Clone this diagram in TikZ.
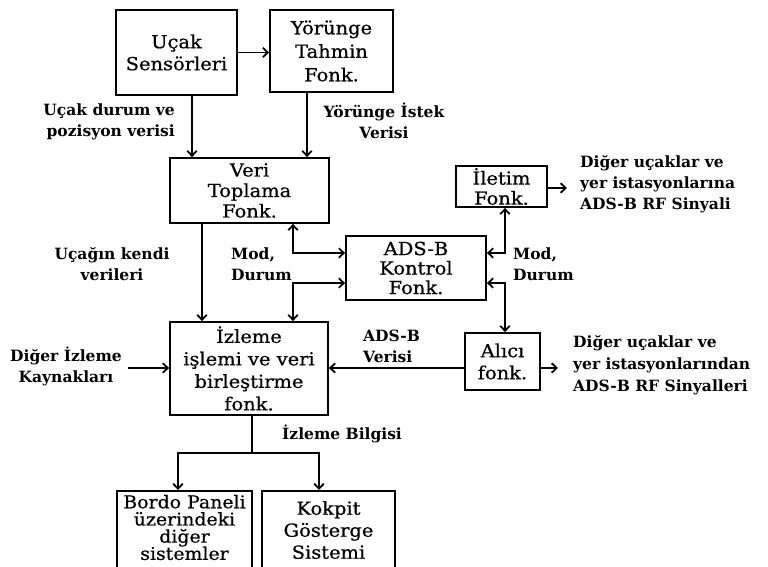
\documentclass[tikz,border=0pt]{standalone}
\usepackage{fontspec}
\setmainfont{DejaVu Serif}
\newfontfamily\boxfont[FakeStretch=1.08,FakeBold=0.6]{DejaVu Serif}
\newfontfamily\lblfont{DejaVu Serif}
\usetikzlibrary{arrows.meta}

\begin{document}
\begin{tikzpicture}[x=1pt,y=-1pt,
  box/.style={draw,line width=1.8pt,align=center,inner sep=2pt,
    font=\boxfont\fontsize{18}{22}\selectfont},
  lbl/.style={align=center,inner sep=0pt,
    font=\lblfont\bfseries\fontsize{15.5}{21}\selectfont},
  tip/.tip={Straight Barb[length=5pt,width=9.5pt]},
  ln/.style={line width=1.8pt},
  arr/.style={ln,-tip},
  darr/.style={ln,tip-tip}]
\useasboundingbox (0,0) rectangle (768,567);
\fill[white] (0,0) rectangle (768,567);

% function blocks
\node[box,minimum width=121pt,minimum height=85pt] (uc) at (176.5,52.5) {Uçak\\Sensörleri};
\node[box,minimum width=123pt,minimum height=82pt,font=\boxfont\fontsize{18}{23.5}\selectfont] (yt) at (331.5,51) {Yörünge\\Tahmin\\Fonk.};
\node[box,minimum width=159pt,minimum height=65pt,font=\boxfont\fontsize{18}{20.5}\selectfont] (vt) at (249.5,190.5) {Veri\\Toplama\\Fonk.};
\node[box,minimum width=140pt,minimum height=64pt,font=\boxfont\fontsize{18}{19.5}\selectfont] (ak) at (416,268) {ADS-B\\Kontrol\\Fonk.};
\node[box,minimum width=91pt,minimum height=41pt,font=\boxfont\fontsize{18}{20}\selectfont] (il) at (501.5,186.5) {İletim\\Fonk.};
\node[box,minimum width=75pt,minimum height=57pt] (al) at (502.5,361.5) {Alıcı\\fonk.};
\node[box,minimum width=158pt,minimum height=93pt,font=\boxfont\fontsize{18}{22.5}\selectfont] (iz) at (249,368.5) {İzleme\\işlemi ve veri\\birleştirme\\fonk.};
% the two lower blocks run on past the bottom edge
\node[box,anchor=north,minimum width=135pt,minimum height=82pt,inner sep=1pt,text depth=9pt,font=\boxfont\fontsize{17.5}{17.2}\selectfont] (bp) at (184.5,490) {Bordo Paneli\\üzerindeki\\diğer\\sistemler};
\node[box,anchor=north,minimum width=133pt,minimum height=82pt,text depth=4pt] (kg) at (328.5,490) {Kokpit\\Gösterge\\Sistemi};

% routing columns and rows
\coordinate (c192) at (192,0);
\coordinate (c307) at (307,0);
\coordinate (c202) at (202,0);
\coordinate (c293) at (293,0);
\coordinate (c505) at (505,0);
\coordinate (c178) at (178,0);
\coordinate (c319) at (319,0);
\coordinate (r253) at (0,253);
\coordinate (r283) at (0,283);
\coordinate (r368) at (0,368);
\coordinate (ilout) at (567,188);
\coordinate (alout) at (558,368);
\coordinate (src) at (128,368);
\coordinate (jn) at (252,453);

% connectors
\draw[arr] (uc.east) -- (uc.east -| yt.west);
\draw[arr] (uc.south -| c192) -- (vt.north -| c192);
\draw[arr] (yt.south -| c307) -- (vt.north -| c307);
\draw[arr] (vt.south -| c202) -- (iz.north -| c202);
\draw[darr] (vt.south -| c293) |- (ak.west |- r253);
\draw[darr] (ak.west |- r283) -| (iz.north -| c293);
\draw[arr] (il.east |- ilout) -- (ilout);
\draw[darr] (il.south -| c505) |- (ak.east |- r253);
\draw[darr] (ak.east |- r283) -| (al.north -| c505);
\draw[arr] (al.east |- alout) -- (alout);
\draw[arr] (al.west |- r368) -- (iz.east |- r368);
\draw[arr] (src) -- (iz.west |- src);
\draw[ln] (iz.south -| jn) -- (jn);
\draw[arr] (jn) -| (bp.north -| c178);
\draw[arr] (jn) -| (kg.north -| c319);

% labels
\node[lbl,align=right,anchor=east] (l1) at (175,122) {Uçak durum ve\\pozisyon verisi};
\node[lbl] (l2) at (384,121) {Yörünge İstek\\Verisi};
\node[lbl] (l3) at (112,264) {Uçağın kendi\\verileri};
\node[lbl,align=left,anchor=west] (l4) at (231,264) {Mod,\\Durum};
\node[lbl,align=left,anchor=west] (l5) at (513,264) {Mod,\\Durum};
\node[lbl,align=left,anchor=west] (l6) at (580,184) {Diğer uçaklar ve\\yer istasyonlarına\\ADS-B RF Sinyali};
\node[lbl,align=left,anchor=west] (l7) at (363,346) {ADS-B\\Verisi};
\node[lbl] (l8) at (66,366) {Diğer İzleme\\Kaynakları};
\node[lbl,align=left,anchor=west,font=\lblfont\bfseries\fontsize{15.5}{22}\selectfont] (l9) at (573,365) {Diğer uçaklar ve\\yer istasyonlarından\\ADS-B RF Sinyalleri};
\node[lbl,anchor=west] (l10) at (282,434) {İzleme Bilgisi};
\end{tikzpicture}
\end{document}
